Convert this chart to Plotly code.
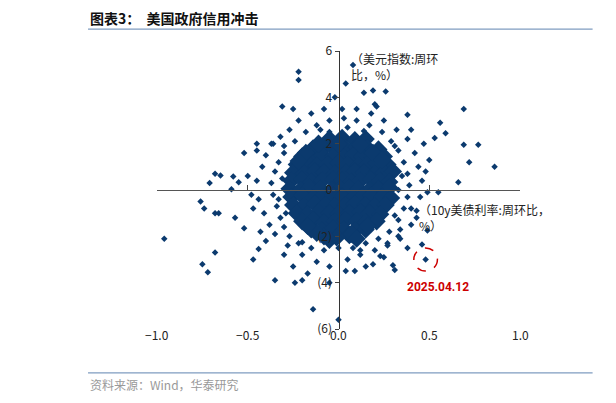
import plotly.graph_objects as go

# core cloud (hand-read, dense region)
core_x = [-0.05,0.02,0.09,0.15,
 -0.14,-0.08,-0.02,0.04,0.1,0.16,0.22,
 -0.2,-0.15,-0.09,-0.03,0.03,0.08,0.13,0.19,0.25,
 -0.23,-0.17,-0.12,-0.06,0.0,0.05,0.11,0.16,0.21,0.27,
 -0.25,-0.19,-0.13,-0.08,-0.02,0.04,0.09,0.14,0.2,0.25,0.3,
 -0.26,-0.2,-0.15,-0.09,-0.03,0.02,0.07,0.12,0.18,0.23,0.28,
 -0.27,-0.21,-0.16,-0.1,-0.04,0.01,0.06,0.11,0.17,0.22,0.28,
 -0.26,-0.2,-0.14,-0.09,-0.03,0.02,0.08,0.13,0.18,0.24,0.29,
 -0.25,-0.19,-0.13,-0.07,-0.02,0.04,0.09,0.15,0.2,0.26,
 -0.23,-0.17,-0.11,-0.05,0.0,0.06,0.12,0.17,0.23,
 -0.2,-0.14,-0.08,-0.02,0.04,0.1,0.15,0.21,
 -0.15,-0.09,-0.03,0.03,0.09,0.15,
 -0.08,-0.01,0.06,
 -0.11,0.0,0.12,-0.18,0.19,-0.22,0.24,-0.12,0.07,-0.05,0.16,-0.17,0.1]
core_y = [2.2,2.25,2.15,2.2,
 1.8,1.85,1.75,1.8,1.85,1.8,1.75,
 1.45,1.4,1.5,1.45,1.4,1.5,1.45,1.4,1.45,
 1.1,1.15,1.05,1.1,1.15,1.1,1.05,1.1,1.15,1.1,
 0.75,0.7,0.8,0.75,0.7,0.75,0.8,0.75,0.7,0.75,0.8,
 0.4,0.45,0.35,0.4,0.45,0.4,0.35,0.4,0.45,0.4,0.35,
 0.05,0.0,0.1,0.05,0.0,0.05,0.1,0.05,0.0,0.05,0.1,
 -0.3,-0.25,-0.35,-0.3,-0.25,-0.3,-0.35,-0.3,-0.25,-0.3,-0.35,
 -0.65,-0.7,-0.6,-0.65,-0.7,-0.65,-0.6,-0.65,-0.7,-0.65,
 -1.0,-1.05,-0.95,-1.0,-1.05,-1.0,-0.95,-1.0,-1.05,
 -1.35,-1.3,-1.4,-1.35,-1.3,-1.35,-1.4,-1.35,
 -1.7,-1.75,-1.65,-1.7,-1.75,-1.7,
 -2.0,-2.05,-1.95,
 2.0,2.0,1.95,1.6,1.6,1.25,1.3,-1.85,-1.9,-2.15,-1.55,-1.55,-2.1]

ring_x = [-0.3,-0.33,-0.35,-0.37,-0.36,-0.34,-0.32,-0.3,-0.27,-0.22,-0.15,-0.08,0.0,0.08,0.15,0.22,0.28,0.33,0.36,0.38,0.39,0.38,0.36,0.33,0.29,0.24,0.17,0.1,0.03,-0.05,-0.12,-0.18,-0.24,
 -0.42,-0.45,-0.44,-0.41,-0.38,-0.35,-0.28,-0.2,-0.12,-0.05,0.05,0.12,0.2,0.27,0.33,0.4,0.43,0.45,0.46,0.44,0.42,0.38,0.32,0.25,0.18,0.1,0.02,-0.08,-0.15,-0.22,-0.27,-0.32,-0.36,-0.4,
 -0.5,-0.48,-0.47,-0.43,-0.4,-0.3,-0.25,-0.17,0.15,0.25,0.38,0.48,0.5,0.47,0.4,0.2,-0.25,-0.45,
 -0.31,-0.29,-0.33,0.33,0.31,0.35,-0.1,0.05,0.14,-0.2,0.27,-0.05,0.12,-0.3,0.31]
ring_y = [1.6,1.2,0.8,0.3,-0.2,-0.7,-1.2,-1.6,-2.0,-2.3,-2.5,-2.6,-2.5,-2.5,-2.3,-2.1,-1.8,-1.3,-0.8,-0.3,0.2,0.7,1.2,1.7,2.1,2.5,2.8,3.0,3.1,3.0,2.8,2.5,2.1,
 1.0,0.4,-0.4,-1.0,-1.5,-1.9,-2.4,-2.8,-3.1,-3.3,-3.0,-2.8,-2.6,-2.3,-2.0,-1.5,-0.9,-0.3,0.4,1.0,1.6,2.2,2.6,3.0,3.3,3.5,3.5,3.5,3.3,3.0,2.6,2.3,2.0,1.5,
 0.6,-0.2,-0.8,-1.8,-2.2,-2.8,-3.3,-3.6,-3.3,-2.9,-2.5,0.8,1.3,2.0,2.6,3.7,3.5,2.0,
 0.5,-1.0,-0.4,0.0,-1.1,0.6,2.6,2.7,2.55,-2.25,-2.4,2.5,-2.6,1.9,1.9]

out_x = [0.08,-0.22,-0.22,0.04,0.19,0.26,0.14,-0.02,-0.31,0.21,0.69,0.38,0.56,0.59,0.53,0.69,0.77,-0.37,-0.45,-0.52,0.72,0.86,0.66,0.55,
 -0.68,-0.71,-0.65,-0.58,-0.55,-0.59,-0.76,-0.74,-0.68,-0.66,-0.57,-0.52,-0.96,-0.68,-0.75,-0.72,-0.47,-0.44,-0.35,-0.24,-0.2,-0.14,-0.05,0.0,
 0.04,0.09,0.19,0.23,0.3,0.31,0.46,0.49,0.34,0.34,0.4,0.43,0.49]
out_y = [5.4,5.1,4.75,4.6,4.3,4.25,4.2,4.0,3.6,3.6,3.5,3.25,2.9,2.45,2.25,1.95,1.95,2.0,1.7,1.6,1.2,1.0,0.33,-0.1,
 0.7,0.3,0.63,0.58,0.33,0.03,-0.5,-0.8,-1.0,-1.0,-1.2,-1.65,-2.1,-2.7,-3.2,-3.55,-3.0,-2.55,-3.9,-4.0,-3.9,-5.15,-4.0,-5.6,
 -3.5,-3.5,-3.2,-2.85,-3.25,-3.45,-2.35,-1.75,-2.1,-1.7,-0.8,-1.2,-0.1]

hl_x = [0.48]
hl_y = [-3.0]
hl_label = "2025.04.12"

x_ticks = [-1.0, -0.5, 0.0, 0.5, 1.0]
y_ticks = [6, 4, 2, 0, -2, -4, -6]
y_tick_text = ["6", "4", "2", "0", "(2)", "(4)", "(6)"]

C = "#0b3a6e"
fig = go.Figure()
fig.add_trace(go.Scatter(x=core_x, y=core_y, mode="markers",
    marker=dict(symbol="diamond", size=14, color=C)))
fig.add_trace(go.Scatter(x=ring_x, y=ring_y, mode="markers",
    marker=dict(symbol="diamond", size=5, color=C)))
fig.add_trace(go.Scatter(x=out_x + hl_x, y=out_y + hl_y, mode="markers",
    marker=dict(symbol="diamond", size=5, color=C)))

fig.add_shape(type="circle", x0=hl_x[0]-0.065, x1=hl_x[0]+0.065, y0=hl_y[0]-0.5, y1=hl_y[0]+0.5,
    line=dict(color="#cc0000", width=1.5, dash="dash"))

font = "Noto Sans CJK SC"
ann = []
for v in x_ticks:
    ann.append(dict(x=v, y=-0.058, yref="paper", text=f"{v:.1f}".replace("-", "−"), showarrow=False,
        font=dict(size=12, color="#222", family=font)))
ann.append(dict(x=hl_x[0]+0.07, y=-4.2, text="<b>"+hl_label+"</b>", showarrow=False,
    font=dict(size=12, color="#cc0000", family="Roboto")))
ann.append(dict(x=0.06, y=1.01, yref="paper", xanchor="left", yanchor="top", align="left", showarrow=False,
    text="（美元指数:周环<br>比，%）", font=dict(size=12, color="#222", family=font)))
ann.append(dict(x=0.43, y=-0.4, xanchor="left", yanchor="top", align="left", showarrow=False,
    text="（10y美债利率:周环比，<br>%）", font=dict(size=12, color="#222", family=font)))
ann.append(dict(xref="paper", yref="paper", x=-0.19, y=1.119, xanchor="left", yanchor="middle", showarrow=False,
    text="<b>图表3：  美国政府信用冲击</b>", font=dict(size=14, color="#111", family=font)))
ann.append(dict(xref="paper", yref="paper", x=-0.19, y=-0.201, xanchor="left", yanchor="middle", showarrow=False,
    text="资料来源：Wind，华泰研究", font=dict(size=12, color="#999", family=font)))
fig.add_shape(type="line", xref="paper", yref="paper", x0=-0.19, x1=1.2, y0=1.079, y1=1.079,
    line=dict(color="#7f9cc0", width=1.2))
fig.add_shape(type="line", xref="paper", yref="paper", x0=-0.19, x1=1.2, y0=-0.158, y1=-0.158,
    line=dict(color="#7f9cc0", width=1.2))

fig.update_layout(
    width=608, height=395, paper_bgcolor="white", plot_bgcolor="white",
    margin=dict(l=149, r=96, t=43, b=74, autoexpand=False), showlegend=False, annotations=ann,
    xaxis=dict(range=[-1.0, 1.0], showgrid=False, zeroline=False, showline=True, linecolor="#555",
        anchor="free", position=0.5, tickvals=x_ticks, ticks="inside", ticklen=5, showticklabels=False,
        automargin=False),
    yaxis=dict(range=[-6, 6], showgrid=False, zeroline=False, showline=True, linecolor="#333",
        anchor="free", position=0.5, tickvals=y_ticks, ticktext=y_tick_text, ticks="outside", ticklen=4,
        tickfont=dict(size=12, color="#222", family=font), automargin=False),
)
fig.write_html("out.html")
